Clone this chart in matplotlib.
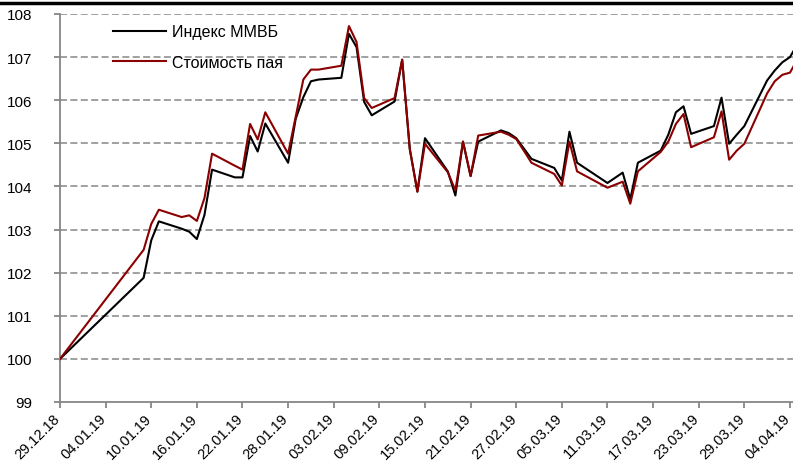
import pandas as pd
import matplotlib
matplotlib.use("Agg")
import matplotlib.pyplot as plt
import matplotlib.dates as mdates
import matplotlib.transforms as mtransforms
from matplotlib.lines import Line2D

plt.rcParams['font.family'] = ['Liberation Sans', 'DejaVu Sans']

# trading days and normalized values (29.12.18 = 100)
dates = [
    "2018-12-29", "2019-01-09", "2019-01-10", "2019-01-11", "2019-01-14",
    "2019-01-15", "2019-01-16", "2019-01-17", "2019-01-18", "2019-01-21",
    "2019-01-22", "2019-01-23", "2019-01-24", "2019-01-25", "2019-01-28",
    "2019-01-29", "2019-01-30", "2019-01-31", "2019-02-01", "2019-02-04",
    "2019-02-05", "2019-02-06", "2019-02-07", "2019-02-08", "2019-02-11",
    "2019-02-12", "2019-02-13", "2019-02-14", "2019-02-15", "2019-02-18",
    "2019-02-19", "2019-02-20", "2019-02-21", "2019-02-22", "2019-02-25",
    "2019-02-26", "2019-02-27", "2019-02-28", "2019-03-01", "2019-03-04",
    "2019-03-05", "2019-03-06", "2019-03-07", "2019-03-11", "2019-03-12",
    "2019-03-13", "2019-03-14", "2019-03-15", "2019-03-18", "2019-03-19",
    "2019-03-20", "2019-03-21", "2019-03-22", "2019-03-25", "2019-03-26",
    "2019-03-27", "2019-03-28", "2019-03-29", "2019-04-01", "2019-04-02",
    "2019-04-03", "2019-04-04", "2019-04-05",
]
micex = [
    100.00, 101.88, 102.75, 103.19, 103.02,
    102.95, 102.78, 103.34, 104.39, 104.21,
    104.21, 105.17, 104.81, 105.46, 104.55,
    105.57, 106.07, 106.44, 106.48, 106.52,
    107.54, 107.23, 105.96, 105.65, 105.97,
    106.94, 104.87, 103.88, 105.12, 104.35,
    103.79, 105.04, 104.24, 105.04, 105.30,
    105.24, 105.12, 104.88, 104.64, 104.43,
    104.14, 105.27, 104.55, 104.08, 104.20,
    104.32, 103.70, 104.55, 104.83, 105.20,
    105.72, 105.86, 105.22, 105.40, 106.06,
    104.99, 105.20, 105.40, 106.46, 106.69,
    106.88, 107.00, 107.30,
]
fund = [
    100.00, 102.53, 103.13, 103.46, 103.29,
    103.33, 103.20, 103.73, 104.76, 104.48,
    104.39, 105.45, 105.09, 105.72, 104.76,
    105.62, 106.48, 106.71, 106.71, 106.80,
    107.72, 107.35, 106.05, 105.82, 106.05,
    106.94, 104.87, 103.88, 104.99, 104.33,
    103.91, 105.04, 104.24, 105.18, 105.27,
    105.20, 105.10, 104.83, 104.55, 104.29,
    104.02, 105.04, 104.35, 103.97, 104.04,
    104.11, 103.60, 104.35, 104.80, 105.04,
    105.45, 105.68, 104.91, 105.14, 105.74,
    104.62, 104.83, 104.99, 106.16, 106.44,
    106.59, 106.64, 106.95,
]
labels = ["Индекс ММВБ", "Стоимость пая"]

x = pd.to_datetime(dates)
start = pd.Timestamp("2018-12-29")
ticks = pd.date_range(start, periods=17, freq="6D")

fig = plt.figure(figsize=(7.93, 4.64), dpi=100)
ax = fig.add_axes([60 / 793, 1 - 403 / 464, 1 - 60 / 793, 388 / 464])

grey = "#868686"
ax.set_ylim(99, 108)
ax.set_xlim(start, start + pd.Timedelta(days=96.4))
ax.set_yticks(range(99, 109))
for v in range(100, 109):
    ax.axhline(v, color=grey, lw=1.1, ls=(0, (4.6, 2.2)), zorder=1)

ax.plot(x, micex, color="black", lw=1.5, label=labels[0], zorder=3)
ax.plot(x, fund, color="#8B0000", lw=1.5, label=labels[1], zorder=4)

for side in ["top", "right"]:
    ax.spines[side].set_visible(False)
for side in ["left", "bottom"]:
    ax.spines[side].set_color(grey)
    ax.spines[side].set_linewidth(1.3)
ax.tick_params(axis="both", colors=grey, width=1.3, length=4, labelsize=11,
               labelcolor="black")
ax.tick_params(axis="y", pad=16)
ax.tick_params(axis="x", pad=2.5, labelsize=10.5)

ax.set_xticks(ticks)
ax.xaxis.set_major_formatter(mdates.DateFormatter("%d.%m.%y"))
shift = mtransforms.ScaledTranslation(-7 / 100, 0, fig.dpi_scale_trans)
for lab in ax.get_xticklabels():
    lab.set_rotation(45)
    lab.set_ha("right")
    lab.set_rotation_mode("anchor")
    lab.set_transform(lab.get_transform() + shift)

ax.legend(loc="upper left", bbox_to_anchor=(0.053, 1.01), frameon=False,
          fontsize=11.5, handlelength=3.3, handletextpad=0.35, labelspacing=0.95)

fig.add_artist(Line2D([0, 1], [1 - 4 / 464, 1 - 4 / 464], color="black",
                      lw=2.5, transform=fig.transFigure))

fig.savefig("out.png", dpi=100)
